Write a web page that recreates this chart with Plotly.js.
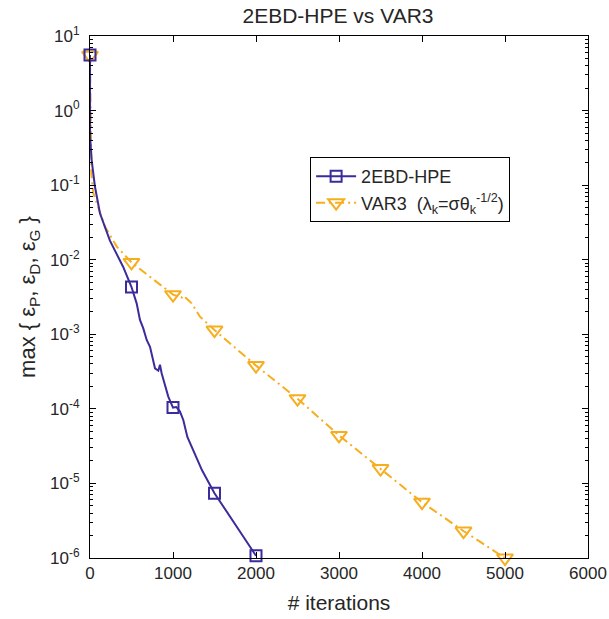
<!DOCTYPE html>
<html>
<head>
<meta charset="utf-8">
<script src="https://cdn.plot.ly/plotly-3.0.1.min.js"></script>
<style>html,body{margin:0;padding:0;background:#fff;}#chart{width:609px;height:619px;}</style>
</head>
<body>
<div id="chart"></div>
<script>
// 2EBD-HPE series
var hpeIter = [0, 1, 20, 60, 120, 240, 400, 500, 562, 602, 642, 683, 723, 763, 783, 823, 843, 863, 904, 943, 1000, 1040, 1084, 1124, 1173, 1245, 1350, 1500, 1750, 2000];
var hpeErr  = [5.56, 0.45, 0.217, 0.095, 0.042, 0.018, 0.008, 0.0043, 0.0026, 0.00156, 0.0012, 0.00084, 0.00068, 0.00045, 0.00035, 0.000325, 0.00039, 0.0003, 0.000198, 0.000146, 0.000104, 0.000106, 0.000092, 0.000071, 0.000042, 0.000028, 0.000015, 0.0000074, 0.0000028, 0.00000107];
// VAR3 series
var varIter = [0, 16, 40, 180, 322, 500, 1000, 1104, 1125, 1225, 1325, 1386, 1500, 2000, 2500, 3000, 3500, 4000, 4500, 5000];
var varErr  = [5.5, 0.144, 0.078, 0.0277, 0.015, 0.0092, 0.0034, 0.0031, 0.0033, 0.0026, 0.00172, 0.00148, 0.00114, 0.00038, 0.000137, 0.000044, 0.0000158, 0.0000056, 0.0000023, 0.000001];
var markerStep = 500;
var seriesNames = ['2EBD-HPE', 'VAR3  (λ<sub>k</sub>=σθ<sub>k</sub><sup>-1/2</sup>)'];
var xTickVals = [0, 1000, 2000, 3000, 4000, 5000, 6000];
var yExponents = [-6, -5, -4, -3, -2, -1, 0, 1];

var blue = 'rgb(58,45,155)';
var orange = 'rgb(246,174,30)';
var dashStyle = '9px,4px,2px,4px';

function pick(xs, ys) {
  var px = [], py = [];
  for (var i = 0; i < xs.length; i++) {
    if (xs[i] % markerStep === 0) { px.push(xs[i]); py.push(ys[i]); }
  }
  return {x: px, y: py};
}
var hpeM = pick(hpeIter, hpeErr);
var varM = pick(varIter, varErr);

var traces = [
  {x: varIter, y: varErr, mode: 'lines', line: {color: orange, width: 2, dash: dashStyle}, showlegend: false, hoverinfo: 'skip'},
  {x: varM.x, y: varM.y, mode: 'markers', cliponaxis: false, marker: {symbol: 'triangle-down-open', size: 14, color: orange, line: {width: 2, color: orange}}, showlegend: false},
  {x: hpeIter, y: hpeErr, mode: 'lines', line: {color: blue, width: 2}, showlegend: false, hoverinfo: 'skip'},
  {x: hpeM.x, y: hpeM.y, mode: 'markers', cliponaxis: false, marker: {symbol: 'square-open', size: 11, color: blue, line: {width: 2, color: blue}}, showlegend: false},
  {x: [null], y: [null], name: seriesNames[0], mode: 'lines+markers', line: {color: blue, width: 2}, marker: {symbol: 'square-open', size: 11, color: blue, line: {width: 2, color: blue}}},
  {x: [null], y: [null], name: seriesNames[1], mode: 'lines+markers', line: {color: orange, width: 2, dash: dashStyle}, marker: {symbol: 'triangle-down-open', size: 14, color: orange, line: {width: 2, color: orange}}}
];

var fontFam = 'Liberation Sans, Arial, Helvetica, sans-serif';
var txt = '#262626';
var layout = {
  width: 609, height: 619,
  margin: {l: 90, r: 21, t: 36, b: 61},
  paper_bgcolor: '#fff', plot_bgcolor: '#fff',
  font: {family: fontFam, color: txt, size: 17},
  title: {text: '2EBD-HPE vs VAR3', font: {size: 21, color: txt}, x: 0.555, xanchor: 'center', y: 0.975, yanchor: 'middle'},
  xaxis: {
    range: [0, 6000], tickvals: xTickVals, ticktext: xTickVals.map(String),
    ticks: 'inside', ticklen: 6, tickcolor: '#000', tickwidth: 1,
    showline: true, linecolor: '#000', linewidth: 1, mirror: 'allticks',
    showgrid: false, zeroline: false,
    tickfont: {size: 17, color: txt},
    title: {text: '# iterations', font: {size: 21, color: txt}, standoff: 12}
  },
  yaxis: {
    type: 'log', range: [-6, 1],
    tickvals: yExponents.map(function (e) { return Math.pow(10, e); }),
    ticktext: yExponents.map(function (e) { return '10<sup>' + e + '</sup>'; }),
    ticks: 'inside', ticklen: 6, tickcolor: '#000', tickwidth: 1,
    minor: {ticks: 'inside', ticklen: 3, tickcolor: '#000', dtick: 'D1', showgrid: false},
    showline: true, linecolor: '#000', linewidth: 1, mirror: 'allticks',
    showgrid: false, zeroline: false,
    tickfont: {size: 17, color: txt},
    ticklabelstandoff: 6,
    title: {text: 'max { ε<sub>P</sub>, ε<sub>D</sub>, ε<sub>G</sub> }', font: {size: 22, color: txt}, standoff: 8}
  },
  legend: {
    x: 0.442, y: 0.768, xanchor: 'left', yanchor: 'top',
    bgcolor: '#fff', bordercolor: '#000', borderwidth: 1,
    font: {size: 18, color: txt}, itemwidth: 40, tracegroupgap: 0
  },
  showlegend: true
};

Plotly.newPlot('chart', traces, layout, {staticPlot: true, displayModeBar: false});
</script>
</body>
</html>
